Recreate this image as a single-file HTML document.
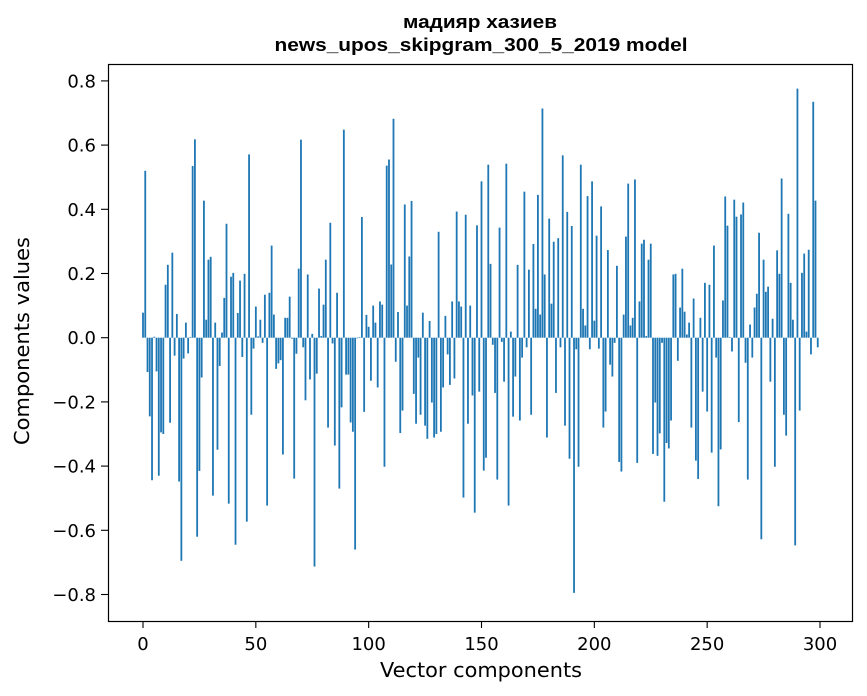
<!DOCTYPE html>
<html><head><meta charset="utf-8"><style>
html,body{margin:0;padding:0;background:#fff;}
svg{display:block;}
text{font-family:"DejaVu Sans","Liberation Sans",sans-serif;fill:#000;}
.title{font-family:"Liberation Sans","DejaVu Sans",sans-serif;font-weight:bold;font-size:18px;}
</style></head><body>
<svg id="chart" width="867" height="696" viewBox="0 0 867 696" xmlns="http://www.w3.org/2000/svg">
<rect width="867" height="696" fill="#fff"/>
<text class="title" x="480" y="28" text-anchor="middle" textLength="154" lengthAdjust="spacingAndGlyphs">мадияр хазиев</text>
<text class="title" x="481" y="51" text-anchor="middle" textLength="413" lengthAdjust="spacingAndGlyphs">news_upos_skipgram_300_5_2019 model</text>
<g id="bars"></g>
<g id="xticks"></g>
<g id="yticks"></g>
<rect x="108.5" y="64.5" width="744" height="557" fill="none" stroke="#000" stroke-width="1.2"/>
<text x="481" y="677" text-anchor="middle" font-size="20" textLength="202" lengthAdjust="spacingAndGlyphs">Vector components</text>
<text transform="translate(29,341) rotate(-90)" text-anchor="middle" font-size="20" textLength="208" lengthAdjust="spacingAndGlyphs">Components values</text>
</svg>
<script>
const values = [
0.078,0.52,-0.107,-0.245,-0.444,0.003,-0.105,-0.43,-0.295,-0.30,
0.165,0.227,-0.265,0.265,-0.056,0.074,-0.448,-0.695,-0.065,0.047,
-0.049,0.002,0.535,0.618,-0.62,-0.415,-0.124,0.427,0.056,0.243,
0.252,-0.492,0.047,-0.349,-0.088,0.016,0.124,0.355,-0.517,0.19,
0.202,-0.645,0.077,0.178,-0.06,0.199,-0.573,0.571,-0.24,-0.034,
0.097,0.004,0.056,-0.016,0.134,-0.523,0.14,0.287,0.072,-0.097,
-0.08,-0.07,-0.364,0.062,0.062,0.128,-0.003,-0.439,-0.05,0.215,
0.617,-0.03,-0.195,0.197,-0.13,0.012,-0.713,-0.112,0.153,0.005,
0.103,0.243,-0.28,0.358,-0.018,-0.336,0.14,-0.47,-0.217,0.648,
-0.115,-0.115,-0.264,-0.293,-0.66,-0.002,0.002,0.376,-0.231,0.071,
0.034,-0.134,0.1,0.047,-0.155,0.113,0.103,-0.402,0.536,0.555,
0.228,0.682,-0.075,0.08,-0.297,-0.227,0.415,0.1,0.253,0.426,
-0.175,-0.268,-0.062,-0.24,0.078,-0.274,-0.315,0.052,-0.202,-0.311,
-0.3,0.33,-0.293,-0.155,0.068,-0.052,-0.147,0.113,-0.127,0.393,
0.113,0.097,-0.498,0.383,-0.268,0.1,-0.18,-0.545,0.35,-0.168,
0.487,-0.414,-0.374,0.539,0.23,-0.022,-0.172,-0.442,0.343,-0.013,
-0.137,0.542,-0.523,0.019,-0.246,-0.121,0.227,-0.258,-0.062,0.455,
-0.03,0.212,-0.24,0.292,0.09,0.445,0.072,0.714,0.197,-0.311,
0.371,0.106,0.299,-0.172,0.31,-0.03,0.568,-0.274,0.392,-0.377,
0.348,-0.795,-0.036,-0.402,0.539,0.09,0.038,0.441,-0.036,0.487,
0.053,0.318,-0.034,0.409,-0.28,-0.23,0.273,-0.084,-0.121,-0.016,
0.224,-0.387,-0.417,0.072,0.315,0.48,0.038,0.062,0.493,-0.39,
0.113,0.293,0.305,0.005,0.243,0.293,-0.362,-0.202,-0.368,-0.298,
-0.016,-0.511,-0.328,-0.345,-0.258,0.197,0.199,-0.072,0.094,0.215,
0.081,0.01,0.047,-0.28,0.122,-0.383,-0.44,0.062,-0.168,0.171,
-0.23,0.165,-0.358,0.287,-0.062,-0.525,-0.348,0.116,0.44,0.349,
0.002,-0.043,0.43,0.377,-0.263,0.384,0.421,-0.078,-0.442,0.041,
-0.062,0.094,0.137,0.327,-0.628,0.243,0.143,0.159,-0.137,0.059,
-0.402,0.272,0.199,0.496,-0.24,-0.305,0.386,0.171,0.056,-0.647,
0.776,-0.227,0.202,0.262,0.019,0.274,-0.052,0.735,0.427,-0.03
];
const xTickValues = [0,50,100,150,200,250,300];
const xTickLabels = ["0","50","100","150","200","250","300"];
const yTickValues = [-0.8,-0.6,-0.4,-0.2,0,0.2,0.4,0.6,0.8];
const yTickLabels = ["\u22120.8","\u22120.6","\u22120.4","\u22120.2","0.0","0.2","0.4","0.6","0.8"];

const NS = "http://www.w3.org/2000/svg";
function xs(v){ return 143 + v * (820 - 143) / 300; }
function ys(v){ return 337.7 - v * 321; }
const barW = 0.8 * (820 - 143) / 300;

const barsG = document.getElementById('bars');
values.forEach((v, i) => {
  const r = document.createElementNS(NS, 'rect');
  const y0 = ys(0), y1 = ys(v);
  r.setAttribute('x', xs(i) - barW / 2);
  r.setAttribute('y', Math.min(y0, y1));
  r.setAttribute('width', barW);
  r.setAttribute('height', Math.max(0.01, Math.abs(y1 - y0)));
  r.setAttribute('fill', '#1f77b4');
  
  
  barsG.appendChild(r);
});

const xg = document.getElementById('xticks');
xTickValues.forEach((v, i) => {
  const l = document.createElementNS(NS, 'line');
  l.setAttribute('x1', xs(v)); l.setAttribute('x2', xs(v));
  l.setAttribute('y1', 621); l.setAttribute('y2', 628);
  l.setAttribute('stroke', '#000'); l.setAttribute('stroke-width', '1.1');
  
  
  xg.appendChild(l);
  const t = document.createElementNS(NS, 'text');
  t.setAttribute('x', xs(v)); t.setAttribute('y', 650);
  t.setAttribute('text-anchor', 'middle'); t.setAttribute('font-size', '18');
  t.textContent = xTickLabels[i];
  
  
  xg.appendChild(t);
});

const yg = document.getElementById('yticks');
yTickValues.forEach((v, i) => {
  const l = document.createElementNS(NS, 'line');
  l.setAttribute('x1', 101); l.setAttribute('x2', 108.5);
  l.setAttribute('y1', ys(v)); l.setAttribute('y2', ys(v));
  l.setAttribute('stroke', '#000'); l.setAttribute('stroke-width', '1.1');
  
  
  yg.appendChild(l);
  const t = document.createElementNS(NS, 'text');
  t.setAttribute('x', 96); t.setAttribute('y', ys(v) + 6.5);
  t.setAttribute('text-anchor', 'end'); t.setAttribute('font-size', '18');
  t.textContent = yTickLabels[i];
  
  
  yg.appendChild(t);
});
</script>
</body></html>
